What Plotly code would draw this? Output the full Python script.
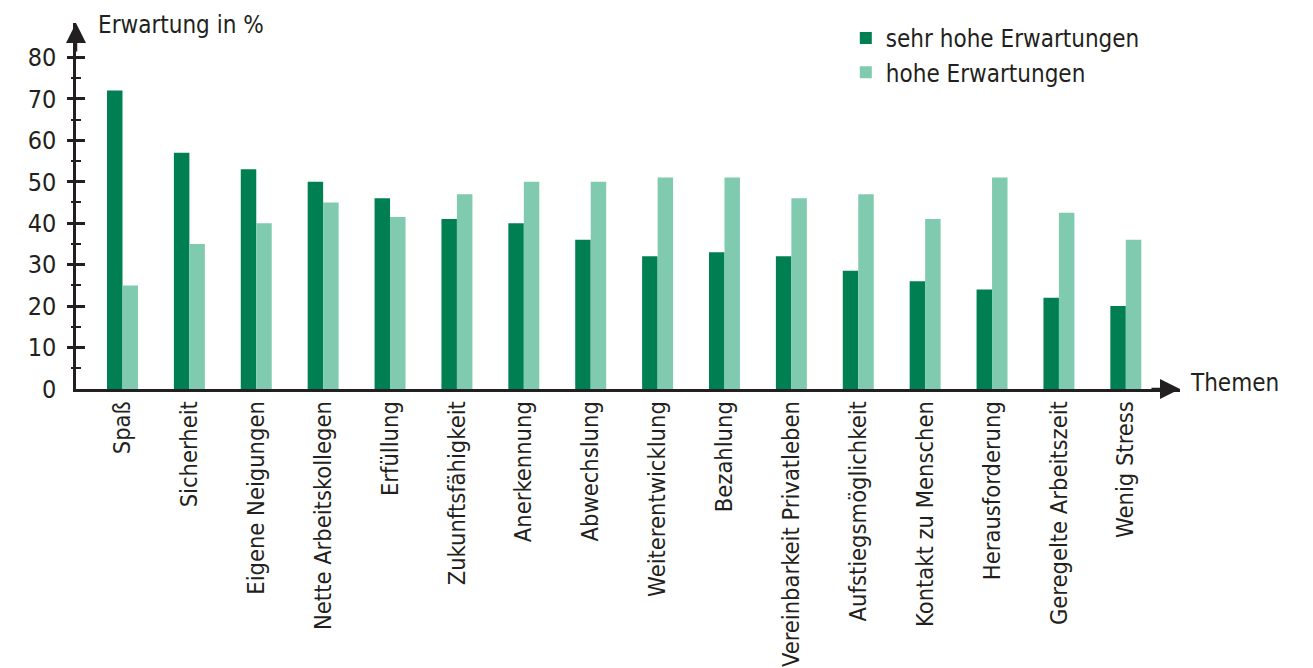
import plotly.graph_objects as go

categories = ["Spaß", "Sicherheit", "Eigene Neigungen", "Nette Arbeitskollegen", "Erfüllung",
              "Zukunftsfähigkeit", "Anerkennung", "Abwechslung", "Weiterentwicklung", "Bezahlung",
              "Vereinbarkeit Privatleben", "Aufstiegsmöglichkeit", "Kontakt zu Menschen",
              "Herausforderung", "Geregelte Arbeitszeit", "Wenig Stress"]
sehr_hohe = [72, 57, 53, 50, 46, 41, 40, 36, 32, 33, 32, 28.5, 26, 24, 22, 20]
hohe = [25, 35, 40, 45, 41.5, 47, 50, 50, 51, 51, 46, 47, 41, 51, 42.5, 36]
y_major = [0, 10, 20, 30, 40, 50, 60, 70, 80]
y_major_ticks = [10, 20, 30, 40, 50, 60, 70, 80]
y_minor_ticks = [5, 15, 25, 35, 45, 55, 65, 75]

FONT = "DejaVu Sans Condensed, Liberation Sans Narrow, sans-serif"
INK = "#231f20"
DARK = "#008052"
LIGHT = "#80cbaf"
FS = 24
FS_X = 23.5
FS_TICK = 25

fig = go.Figure()
fig.add_trace(go.Bar(x=categories, y=sehr_hohe, name="sehr hohe Erwartungen",
                     marker=dict(color=DARK, line=dict(width=0))))
fig.add_trace(go.Bar(x=categories, y=hohe, name="hohe Erwartungen",
                     marker=dict(color=LIGHT, line=dict(width=0))))
fig.add_trace(go.Scatter(x=[], y=[], yaxis="y2", showlegend=False))
fig.add_trace(go.Scatter(x=[], y=[], yaxis="y3", showlegend=False))

yr = [0, 88.3]
fig.update_layout(
    width=1305, height=660,
    margin=dict(l=68, r=133, t=15, b=279, autoexpand=False),
    paper_bgcolor="white", plot_bgcolor="white",
    font=dict(family=FONT, size=FS, color=INK),
    barmode="group", bargap=0.537, bargroupgap=0,
    xaxis=dict(range=[-0.695, 15.81], showgrid=False, zeroline=False, automargin=False,
               showline=True, linecolor=INK, linewidth=2.5,
               ticks="", tickangle=-90, tickfont=dict(size=FS_X, color=INK),
               ticklabelstandoff=0),
    yaxis=dict(range=yr, showgrid=False, zeroline=False, showline=True, automargin=False,
               linecolor=INK, linewidth=2.5, tickmode="array", tickvals=y_major,
               ticks="", ticklen=0, ticklabelstandoff=12,
               tickfont=dict(size=FS_TICK, color=INK)),
    yaxis2=dict(range=yr, overlaying="y", side="left", showgrid=False, zeroline=False,
                showline=False, showticklabels=False, tickmode="array", automargin=False,
                tickvals=y_major_ticks, ticks="outside", ticklen=8, tickwidth=2.5,
                tickcolor=INK,
                minor=dict(tickmode="array", tickvals=y_minor_ticks, ticks="outside",
                           ticklen=4, tickwidth=2, tickcolor=INK, showgrid=False)),
    yaxis3=dict(range=yr, overlaying="y", side="left", showgrid=False, zeroline=False,
                showline=False, showticklabels=False, tickmode="array", automargin=False,
                tickvals=y_major_ticks, ticks="inside", ticklen=9, tickwidth=2.5,
                tickcolor=INK,
                minor=dict(tickmode="array", tickvals=y_minor_ticks, ticks="inside",
                           ticklen=5, tickwidth=2, tickcolor=INK, showgrid=False)),
    legend=dict(xref="container", yref="container", x=0.642, y=0.988,
                xanchor="left", yanchor="top",
                font=dict(size=FS, color=INK), bgcolor="rgba(0,0,0,0)",
                tracegroupgap=0),
    showlegend=True,
)

fig.add_annotation(text="Erwartung in %", xref="paper", yref="paper", x=0.018, y=0.995,
                   xanchor="left", yanchor="middle", showarrow=False,
                   font=dict(size=FS, color=INK))
fig.add_annotation(text="Themen", xref="paper", yref="paper", x=1.0072, y=0.016,
                   xanchor="left", yanchor="middle", showarrow=False,
                   font=dict(size=FS, color=INK))
# axis arrowheads
fig.add_annotation(text="", xref="paper", yref="paper", x=1, y=0, ax=-30, ay=0,
                   showarrow=True, arrowhead=2, arrowwidth=2.5, arrowsize=1.6,
                   arrowcolor=INK, standoff=0)
fig.add_annotation(text="", xref="paper", yref="paper", x=0, y=1, ax=0, ay=30,
                   showarrow=True, arrowhead=2, arrowwidth=2.5, arrowsize=1.6,
                   arrowcolor=INK, standoff=0)

fig.write_html("out.html")
